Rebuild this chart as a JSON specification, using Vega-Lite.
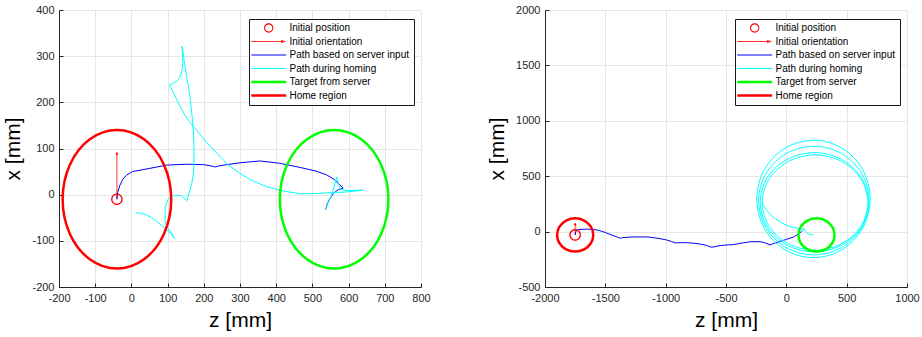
{
  "$schema": "https://vega.github.io/schema/vega-lite/v6.json",
  "autosize": {"type": "none"},
  "padding": {"left": 59, "top": 10, "right": 863, "bottom": 327},
  "bounds": "flush",
  "spacing": 124,
  "config": {
    "font": "Liberation Sans",
    "view": {"stroke": null},
    "axis": {
      "domainColor": "#262626", "domainWidth": 1,
      "tickColor": "#262626", "tickSize": -4, "tickWidth": 1,
      "labelColor": "#262626", "labelFontSize": 11, "labelFont": "Liberation Sans", "labelPadding": 9, "labelFlush": false, "labelOverlap": false,
      "titleFont": "Liberation Sans", "titleFontSize": 21, "titleFontWeight": "normal", "titleColor": "#000000",
      "gridColor": "#e6e6e6", "gridWidth": 1,
      "labelExpr": "'' + datum.value"
    },
    "axisX": {"titlePadding": 6},
    "axisY": {"titlePadding": 8},
    "legend": {
      "padding": 4, "strokeColor": "#1a1a1a", "fillColor": "#ffffff",
      "labelFont": "Liberation Sans", "labelFontSize": 10, "labelColor": "#000000", "labelLimit": 300,
      "symbolSize": 36, "symbolStrokeWidth": 0, "symbolOffset": 10.7, "labelOffset": 15.8, "rowPadding": 3.5, "cornerRadius": 0
    }
  },
  "datasets": {
    "pathsL": [
      {"s":"Initial orientation","id":"a","i":0,"z":-40,"x":-10},
      {"s":"Initial orientation","id":"a","i":1,"z":-40,"x":88},
      {"s":"Path based on server input","id":"b","i":0,"z":-40,"x":-10},
      {"s":"Path based on server input","id":"b","i":1,"z":-38,"x":5},
      {"s":"Path based on server input","id":"b","i":2,"z":-32,"x":20},
      {"s":"Path based on server input","id":"b","i":3,"z":-24,"x":33},
      {"s":"Path based on server input","id":"b","i":4,"z":-14,"x":42},
      {"s":"Path based on server input","id":"b","i":5,"z":3,"x":50},
      {"s":"Path based on server input","id":"b","i":6,"z":51,"x":57},
      {"s":"Path based on server input","id":"b","i":7,"z":97,"x":64},
      {"s":"Path based on server input","id":"b","i":8,"z":153,"x":66},
      {"s":"Path based on server input","id":"b","i":9,"z":199,"x":65},
      {"s":"Path based on server input","id":"b","i":10,"z":222,"x":62},
      {"s":"Path based on server input","id":"b","i":11,"z":232,"x":60},
      {"s":"Path based on server input","id":"b","i":12,"z":240,"x":62},
      {"s":"Path based on server input","id":"b","i":13,"z":263,"x":65},
      {"s":"Path based on server input","id":"b","i":14,"z":300,"x":69},
      {"s":"Path based on server input","id":"b","i":15,"z":355,"x":73},
      {"s":"Path based on server input","id":"b","i":16,"z":410,"x":68},
      {"s":"Path based on server input","id":"b","i":17,"z":466,"x":59},
      {"s":"Path based on server input","id":"b","i":18,"z":510,"x":51},
      {"s":"Path based on server input","id":"b","i":19,"z":539,"x":43},
      {"s":"Path based on server input","id":"b","i":20,"z":560,"x":33},
      {"s":"Path based on server input","id":"b","i":21,"z":576,"x":21},
      {"s":"Path based on server input","id":"b","i":22,"z":585,"x":14},
      {"s":"Path based on server input","id":"b","i":23,"z":572,"x":11},
      {"s":"Path based on server input","id":"b","i":24,"z":558,"x":3},
      {"s":"Path based on server input","id":"b","i":25,"z":547,"x":-10},
      {"s":"Path based on server input","id":"b","i":26,"z":541,"x":-20},
      {"s":"Path based on server input","id":"b","i":27,"z":537,"x":-32},
      {"s":"Path during homing","id":"c","i":0,"z":537,"x":-32},
      {"s":"Path during homing","id":"c","i":1,"z":544,"x":-15},
      {"s":"Path during homing","id":"c","i":2,"z":553,"x":-1},
      {"s":"Path during homing","id":"c","i":3,"z":560,"x":18},
      {"s":"Path during homing","id":"c","i":4,"z":567,"x":38},
      {"s":"Path during homing","id":"c","i":5,"z":572,"x":24},
      {"s":"Path during homing","id":"c","i":6,"z":578,"x":12},
      {"s":"Path during homing","id":"c","i":7,"z":590,"x":9},
      {"s":"Path during homing","id":"c","i":8,"z":610,"x":9},
      {"s":"Path during homing","id":"c","i":9,"z":640,"x":10},
      {"s":"Path during homing","id":"c","i":10,"z":610,"x":7},
      {"s":"Path during homing","id":"c","i":11,"z":580,"x":5},
      {"s":"Path during homing","id":"c","i":12,"z":558,"x":5},
      {"s":"Path during homing","id":"c","i":13,"z":520,"x":3},
      {"s":"Path during homing","id":"c","i":14,"z":490,"x":2},
      {"s":"Path during homing","id":"c","i":15,"z":466,"x":2},
      {"s":"Path during homing","id":"c","i":16,"z":420,"x":8},
      {"s":"Path during homing","id":"c","i":17,"z":374,"x":17},
      {"s":"Path during homing","id":"c","i":18,"z":335,"x":30},
      {"s":"Path during homing","id":"c","i":19,"z":300,"x":46},
      {"s":"Path during homing","id":"c","i":20,"z":265,"x":66},
      {"s":"Path during homing","id":"c","i":21,"z":236,"x":90},
      {"s":"Path during homing","id":"c","i":22,"z":205,"x":115},
      {"s":"Path during homing","id":"c","i":23,"z":180,"x":140},
      {"s":"Path during homing","id":"c","i":24,"z":162,"x":156},
      {"s":"Path during homing","id":"c","i":25,"z":148,"x":172},
      {"s":"Path during homing","id":"c","i":26,"z":134,"x":192},
      {"s":"Path during homing","id":"c","i":27,"z":120,"x":215},
      {"s":"Path during homing","id":"c","i":28,"z":105,"x":238},
      {"s":"Path during homing","id":"c","i":29,"z":117,"x":242},
      {"s":"Path during homing","id":"c","i":30,"z":127,"x":247},
      {"s":"Path during homing","id":"c","i":31,"z":134,"x":254},
      {"s":"Path during homing","id":"c","i":32,"z":139,"x":266},
      {"s":"Path during homing","id":"c","i":33,"z":142,"x":285},
      {"s":"Path during homing","id":"c","i":34,"z":140,"x":322},
      {"s":"Path during homing","id":"c","i":35,"z":144,"x":300},
      {"s":"Path during homing","id":"c","i":36,"z":148,"x":278},
      {"s":"Path during homing","id":"c","i":37,"z":155,"x":245},
      {"s":"Path during homing","id":"c","i":38,"z":162,"x":212},
      {"s":"Path during homing","id":"c","i":39,"z":167,"x":175},
      {"s":"Path during homing","id":"c","i":40,"z":171,"x":140},
      {"s":"Path during homing","id":"c","i":41,"z":173,"x":100},
      {"s":"Path during homing","id":"c","i":42,"z":173,"x":68},
      {"s":"Path during homing","id":"c","i":43,"z":171,"x":45},
      {"s":"Path during homing","id":"c","i":44,"z":167,"x":25},
      {"s":"Path during homing","id":"c","i":45,"z":160,"x":5},
      {"s":"Path during homing","id":"c","i":46,"z":153,"x":-13},
      {"s":"Path during homing","id":"c","i":47,"z":139,"x":-3},
      {"s":"Path during homing","id":"c","i":48,"z":130,"x":-1},
      {"s":"Path during homing","id":"c","i":49,"z":120,"x":-1.5},
      {"s":"Path during homing","id":"c","i":50,"z":110,"x":-4},
      {"s":"Path during homing","id":"c","i":51,"z":102,"x":-9},
      {"s":"Path during homing","id":"c","i":52,"z":96,"x":-20},
      {"s":"Path during homing","id":"c","i":53,"z":93,"x":-34},
      {"s":"Path during homing","id":"c","i":54,"z":93,"x":-55},
      {"s":"Path during homing","id":"c","i":55,"z":96,"x":-66},
      {"s":"Path during homing","id":"c","i":56,"z":102,"x":-73},
      {"s":"Path during homing","id":"c","i":57,"z":111,"x":-84},
      {"s":"Path during homing","id":"c","i":58,"z":120,"x":-95},
      {"s":"Path during homing","id":"c","i":59,"z":108,"x":-84},
      {"s":"Path during homing","id":"c","i":60,"z":97,"x":-76},
      {"s":"Path during homing","id":"c","i":61,"z":84,"x":-67},
      {"s":"Path during homing","id":"c","i":62,"z":70,"x":-58},
      {"s":"Path during homing","id":"c","i":63,"z":56,"x":-50},
      {"s":"Path during homing","id":"c","i":64,"z":42,"x":-44},
      {"s":"Path during homing","id":"c","i":65,"z":27,"x":-40},
      {"s":"Path during homing","id":"c","i":66,"z":12,"x":-39}
    ],
    "closedL": [
      {"s":"Home region","id":"h","i":0,"z":110,"x":-10},
      {"s":"Home region","id":"h","i":1,"z":89.9,"x":65},
      {"s":"Home region","id":"h","i":2,"z":35,"x":119.9},
      {"s":"Home region","id":"h","i":3,"z":-40,"x":140},
      {"s":"Home region","id":"h","i":4,"z":-115,"x":119.9},
      {"s":"Home region","id":"h","i":5,"z":-169.9,"x":65},
      {"s":"Home region","id":"h","i":6,"z":-190,"x":-10},
      {"s":"Home region","id":"h","i":7,"z":-169.9,"x":-85},
      {"s":"Home region","id":"h","i":8,"z":-115,"x":-139.9},
      {"s":"Home region","id":"h","i":9,"z":-40,"x":-160},
      {"s":"Home region","id":"h","i":10,"z":35,"x":-139.9},
      {"s":"Home region","id":"h","i":11,"z":89.9,"x":-85},
      {"s":"Target from server","id":"t","i":0,"z":710,"x":-10},
      {"s":"Target from server","id":"t","i":1,"z":689.9,"x":65},
      {"s":"Target from server","id":"t","i":2,"z":635,"x":119.9},
      {"s":"Target from server","id":"t","i":3,"z":560,"x":140},
      {"s":"Target from server","id":"t","i":4,"z":485,"x":119.9},
      {"s":"Target from server","id":"t","i":5,"z":430.1,"x":65},
      {"s":"Target from server","id":"t","i":6,"z":410,"x":-10},
      {"s":"Target from server","id":"t","i":7,"z":430.1,"x":-85},
      {"s":"Target from server","id":"t","i":8,"z":485,"x":-139.9},
      {"s":"Target from server","id":"t","i":9,"z":560,"x":-160},
      {"s":"Target from server","id":"t","i":10,"z":635,"x":-139.9},
      {"s":"Target from server","id":"t","i":11,"z":689.9,"x":-85}
    ],
    "markersL": [{"s":"Initial position","z":-40,"x":-10}],
    "headsL": [{"z":-40,"x":90}],
    "pathsR": [
      {"s":"Initial orientation","id":"a","i":0,"z":-1750,"x":-30},
      {"s":"Initial orientation","id":"a","i":1,"z":-1750,"x":68},
      {"s":"Path based on server input","id":"b","i":0,"z":-1750,"x":-30},
      {"s":"Path based on server input","id":"b","i":1,"z":-1746,"x":-5},
      {"s":"Path based on server input","id":"b","i":2,"z":-1735,"x":12},
      {"s":"Path based on server input","id":"b","i":3,"z":-1710,"x":20},
      {"s":"Path based on server input","id":"b","i":4,"z":-1650,"x":22},
      {"s":"Path based on server input","id":"b","i":5,"z":-1600,"x":20},
      {"s":"Path based on server input","id":"b","i":6,"z":-1550,"x":10},
      {"s":"Path based on server input","id":"b","i":7,"z":-1500,"x":-8},
      {"s":"Path based on server input","id":"b","i":8,"z":-1447,"x":-31},
      {"s":"Path based on server input","id":"b","i":9,"z":-1400,"x":-50},
      {"s":"Path based on server input","id":"b","i":10,"z":-1380,"x":-60},
      {"s":"Path based on server input","id":"b","i":11,"z":-1360,"x":-55},
      {"s":"Path based on server input","id":"b","i":12,"z":-1310,"x":-51},
      {"s":"Path based on server input","id":"b","i":13,"z":-1250,"x":-48},
      {"s":"Path based on server input","id":"b","i":14,"z":-1213,"x":-49},
      {"s":"Path based on server input","id":"b","i":15,"z":-1150,"x":-48},
      {"s":"Path based on server input","id":"b","i":16,"z":-1102,"x":-55},
      {"s":"Path based on server input","id":"b","i":17,"z":-1040,"x":-65},
      {"s":"Path based on server input","id":"b","i":18,"z":-991,"x":-76},
      {"s":"Path based on server input","id":"b","i":19,"z":-950,"x":-90},
      {"s":"Path based on server input","id":"b","i":20,"z":-920,"x":-102},
      {"s":"Path based on server input","id":"b","i":21,"z":-880,"x":-100},
      {"s":"Path based on server input","id":"b","i":22,"z":-826,"x":-100},
      {"s":"Path based on server input","id":"b","i":23,"z":-770,"x":-105},
      {"s":"Path based on server input","id":"b","i":24,"z":-716,"x":-112},
      {"s":"Path based on server input","id":"b","i":25,"z":-660,"x":-125},
      {"s":"Path based on server input","id":"b","i":26,"z":-619,"x":-142},
      {"s":"Path based on server input","id":"b","i":27,"z":-590,"x":-135},
      {"s":"Path based on server input","id":"b","i":28,"z":-536,"x":-124},
      {"s":"Path based on server input","id":"b","i":29,"z":-480,"x":-120},
      {"s":"Path based on server input","id":"b","i":30,"z":-440,"x":-118},
      {"s":"Path based on server input","id":"b","i":31,"z":-384,"x":-106},
      {"s":"Path based on server input","id":"b","i":32,"z":-300,"x":-92},
      {"s":"Path based on server input","id":"b","i":33,"z":-218,"x":-91},
      {"s":"Path based on server input","id":"b","i":34,"z":-180,"x":-100},
      {"s":"Path based on server input","id":"b","i":35,"z":-135,"x":-120},
      {"s":"Path based on server input","id":"b","i":36,"z":-100,"x":-105},
      {"s":"Path based on server input","id":"b","i":37,"z":-53,"x":-91},
      {"s":"Path based on server input","id":"b","i":38,"z":0,"x":-70},
      {"s":"Path based on server input","id":"b","i":39,"z":58,"x":-50},
      {"s":"Path based on server input","id":"b","i":40,"z":100,"x":-20},
      {"s":"Path based on server input","id":"b","i":41,"z":127,"x":1},
      {"s":"Path based on server input","id":"b","i":42,"z":146,"x":21},
      {"s":"Path during homing","id":"c1","i":0,"z":127,"x":1},
      {"s":"Path during homing","id":"c1","i":1,"z":146,"x":26},
      {"s":"Path during homing","id":"c1","i":2,"z":160,"x":0},
      {"s":"Path during homing","id":"c1","i":3,"z":175,"x":-15},
      {"s":"Path during homing","id":"c1","i":4,"z":196,"x":-24},
      {"s":"Path during homing","id":"c1","i":5,"z":224,"x":-31},
      {"s":"Path during homing","id":"c2","i":0,"z":146,"x":21},
      {"s":"Path during homing","id":"c2","i":1,"z":100,"x":28},
      {"s":"Path during homing","id":"c2","i":2,"z":30,"x":44},
      {"s":"Path during homing","id":"c2","i":3,"z":-40,"x":80},
      {"s":"Path during homing","id":"c2","i":4,"z":-108,"x":129},
      {"s":"Path during homing","id":"c2","i":5,"z":-160,"x":190},
      {"s":"Path during homing","id":"c2","i":6,"z":-191,"x":240},
      {"s":"Path during homing","id":"c2","i":7,"z":-200,"x":262}
    ],
    "loopsR": [
      {"s":"Path during homing","id":"l1","i":0,"z":695,"x":295},
      {"s":"Path during homing","id":"l1","i":1,"z":632,"x":560},
      {"s":"Path during homing","id":"l1","i":2,"z":460,"x":754},
      {"s":"Path during homing","id":"l1","i":3,"z":225,"x":825},
      {"s":"Path during homing","id":"l1","i":4,"z":-10,"x":754},
      {"s":"Path during homing","id":"l1","i":5,"z":-182,"x":560},
      {"s":"Path during homing","id":"l1","i":6,"z":-245,"x":295},
      {"s":"Path during homing","id":"l1","i":7,"z":-182,"x":30},
      {"s":"Path during homing","id":"l1","i":8,"z":-10,"x":-164},
      {"s":"Path during homing","id":"l1","i":9,"z":225,"x":-235},
      {"s":"Path during homing","id":"l1","i":10,"z":460,"x":-164},
      {"s":"Path during homing","id":"l1","i":11,"z":632,"x":30},
      {"s":"Path during homing","id":"l2","i":0,"z":686,"x":280},
      {"s":"Path during homing","id":"l2","i":1,"z":624.6,"x":525},
      {"s":"Path during homing","id":"l2","i":2,"z":457,"x":704.3},
      {"s":"Path during homing","id":"l2","i":3,"z":228,"x":770},
      {"s":"Path during homing","id":"l2","i":4,"z":-1,"x":704.3},
      {"s":"Path during homing","id":"l2","i":5,"z":-168.6,"x":525},
      {"s":"Path during homing","id":"l2","i":6,"z":-230,"x":280},
      {"s":"Path during homing","id":"l2","i":7,"z":-168.6,"x":35},
      {"s":"Path during homing","id":"l2","i":8,"z":-1,"x":-144.3},
      {"s":"Path during homing","id":"l2","i":9,"z":228,"x":-210},
      {"s":"Path during homing","id":"l2","i":10,"z":457,"x":-144.3},
      {"s":"Path during homing","id":"l2","i":11,"z":624.6,"x":35},
      {"s":"Path during homing","id":"l3","i":0,"z":680,"x":265},
      {"s":"Path during homing","id":"l3","i":1,"z":620,"x":489},
      {"s":"Path during homing","id":"l3","i":2,"z":456,"x":653},
      {"s":"Path during homing","id":"l3","i":3,"z":232,"x":713},
      {"s":"Path during homing","id":"l3","i":4,"z":8,"x":653},
      {"s":"Path during homing","id":"l3","i":5,"z":-156,"x":489},
      {"s":"Path during homing","id":"l3","i":6,"z":-216,"x":265},
      {"s":"Path during homing","id":"l3","i":7,"z":-156,"x":41},
      {"s":"Path during homing","id":"l3","i":8,"z":8,"x":-123},
      {"s":"Path during homing","id":"l3","i":9,"z":232,"x":-183},
      {"s":"Path during homing","id":"l3","i":10,"z":456,"x":-123},
      {"s":"Path during homing","id":"l3","i":11,"z":620,"x":41},
      {"s":"Path during homing","id":"l4","i":0,"z":676,"x":262},
      {"s":"Path during homing","id":"l4","i":1,"z":617.3,"x":477},
      {"s":"Path during homing","id":"l4","i":2,"z":457,"x":634.4},
      {"s":"Path during homing","id":"l4","i":3,"z":238,"x":692},
      {"s":"Path during homing","id":"l4","i":4,"z":19,"x":634.4},
      {"s":"Path during homing","id":"l4","i":5,"z":-141.3,"x":477},
      {"s":"Path during homing","id":"l4","i":6,"z":-200,"x":262},
      {"s":"Path during homing","id":"l4","i":7,"z":-141.3,"x":47},
      {"s":"Path during homing","id":"l4","i":8,"z":19,"x":-110.4},
      {"s":"Path during homing","id":"l4","i":9,"z":238,"x":-168},
      {"s":"Path during homing","id":"l4","i":10,"z":457,"x":-110.4},
      {"s":"Path during homing","id":"l4","i":11,"z":617.3,"x":47}
    ],
    "closedR": [
      {"s":"Home region","id":"h","i":0,"z":-1600,"x":-30},
      {"s":"Home region","id":"h","i":1,"z":-1620.1,"x":45},
      {"s":"Home region","id":"h","i":2,"z":-1675,"x":99.9},
      {"s":"Home region","id":"h","i":3,"z":-1750,"x":120},
      {"s":"Home region","id":"h","i":4,"z":-1825,"x":99.9},
      {"s":"Home region","id":"h","i":5,"z":-1879.9,"x":45},
      {"s":"Home region","id":"h","i":6,"z":-1900,"x":-30},
      {"s":"Home region","id":"h","i":7,"z":-1879.9,"x":-105},
      {"s":"Home region","id":"h","i":8,"z":-1825,"x":-159.9},
      {"s":"Home region","id":"h","i":9,"z":-1750,"x":-180},
      {"s":"Home region","id":"h","i":10,"z":-1675,"x":-159.9},
      {"s":"Home region","id":"h","i":11,"z":-1620.1,"x":-105},
      {"s":"Target from server","id":"t","i":0,"z":400,"x":-30},
      {"s":"Target from server","id":"t","i":1,"z":379.9,"x":45},
      {"s":"Target from server","id":"t","i":2,"z":325,"x":99.9},
      {"s":"Target from server","id":"t","i":3,"z":250,"x":120},
      {"s":"Target from server","id":"t","i":4,"z":175,"x":99.9},
      {"s":"Target from server","id":"t","i":5,"z":120.1,"x":45},
      {"s":"Target from server","id":"t","i":6,"z":100,"x":-30},
      {"s":"Target from server","id":"t","i":7,"z":120.1,"x":-105},
      {"s":"Target from server","id":"t","i":8,"z":175,"x":-159.9},
      {"s":"Target from server","id":"t","i":9,"z":250,"x":-180},
      {"s":"Target from server","id":"t","i":10,"z":325,"x":-159.9},
      {"s":"Target from server","id":"t","i":11,"z":379.9,"x":-105}
    ],
    "markersR": [{"s":"Initial position","z":-1750,"x":-30}],
    "headsR": [{"z":-1750,"x":70}]
  },
  "resolve": {
    "scale": {"x": "independent", "y": "independent", "color": "independent", "shape": "independent", "stroke": "independent"},
    "legend": {"color": "independent", "shape": "independent"}
  },
  "hconcat": [
    {
      "width": 362, "height": 277,
      "encoding": {
        "x": {"field": "z", "type": "quantitative", "title": "z [mm]",
              "scale": {"domain": [-200, 800], "nice": false, "zero": false},
              "axis": {"values": [-200,-100,0,100,200,300,400,500,600,700,800]}},
        "y": {"field": "x", "type": "quantitative", "title": "x [mm]",
              "scale": {"domain": [-200, 400], "nice": false, "zero": false},
              "axis": {"values": [-200,-100,0,100,200,300,400]}}
      },
      "layer": [
        {
          "data": {"name": "pathsL"},
          "mark": {"type": "line", "strokeWidth": 1, "clip": true},
          "encoding": {
            "detail": {"field": "id"},
            "order": {"field": "i", "type": "quantitative"},
            "stroke": {"field": "s", "type": "nominal", "legend": null,
              "scale": {"domain": ["Initial orientation","Path based on server input","Path during homing","Target from server","Home region"],
                        "range": ["#ff3030","#0000ff","#00ffff","#00ff00","#ff0000"]}}
          }
        },
        {
          "data": {"name": "closedL"},
          "mark": {"type": "line", "strokeWidth": 2.5, "interpolate": "cardinal-closed", "clip": true},
          "encoding": {
            "detail": {"field": "id"},
            "order": {"field": "i", "type": "quantitative"},
            "stroke": {"field": "s", "type": "nominal", "legend": null,
              "scale": {"domain": ["Initial orientation","Path based on server input","Path during homing","Target from server","Home region"],
                        "range": ["#ff3030","#0000ff","#00ffff","#00ff00","#ff0000"]}}
          }
        },
        {
          "data": {"name": "markersL"},
          "mark": {"type": "point", "filled": true, "opacity": 1, "strokeWidth": 0, "size": 56},
          "encoding": {
            "color": {"field": "s", "type": "nominal",
              "scale": {"domain": ["Initial position","Initial orientation","Path based on server input","Path during homing","Target from server","Home region"],
                        "range": ["#ff0000","#ff3030","#0000ff","#00ffff","#00ff00","#ff0000"]},
              "legend": {"title": null, "orient": "none", "legendX": 190, "legendY": 9}},
            "shape": {"field": "s", "type": "nominal",
              "scale": {"domain": ["Initial position","Initial orientation","Path based on server input","Path during homing","Target from server","Home region"],
                        "range": ["M1.55,0A1.55,1.55,0,1,1,-1.55,0A1.55,1.55,0,1,1,1.55,0ZM1.2,0A1.2,1.2,0,1,0,-1.2,0A1.2,1.2,0,1,0,1.2,0Z",
                                  "M-5.8,-0.17H4.6V0.17H-5.8ZM4.1,-0.6L5.8,0L4.1,0.6Z",
                                  "M-5.8,-0.17H5.8V0.17H-5.8Z",
                                  "M-5.8,-0.17H5.8V0.17H-5.8Z",
                                  "M-5.8,-0.45H5.8V0.45H-5.8Z",
                                  "M-5.8,-0.45H5.8V0.45H-5.8Z"]},
              "legend": {"title": null, "orient": "none", "legendX": 190, "legendY": 9}}
          }
        },
        {
          "data": {"name": "headsL"},
          "mark": {"type": "point", "shape": "triangle-up", "filled": true, "opacity": 1, "color": "#ff0000", "size": 10},
          "encoding": {}
        }
      ]
    },
    {
      "width": 362, "height": 277,
      "encoding": {
        "x": {"field": "z", "type": "quantitative", "title": "z [mm]",
              "scale": {"domain": [-2000, 1000], "nice": false, "zero": false},
              "axis": {"values": [-2000,-1500,-1000,-500,0,500,1000]}},
        "y": {"field": "x", "type": "quantitative", "title": "x [mm]",
              "scale": {"domain": [-500, 2000], "nice": false, "zero": false},
              "axis": {"values": [-500,0,500,1000,1500,2000]}}
      },
      "layer": [
        {
          "data": {"name": "pathsR"},
          "mark": {"type": "line", "strokeWidth": 1, "clip": true},
          "encoding": {
            "detail": {"field": "id"},
            "order": {"field": "i", "type": "quantitative"},
            "stroke": {"field": "s", "type": "nominal", "legend": null,
              "scale": {"domain": ["Initial orientation","Path based on server input","Path during homing","Target from server","Home region"],
                        "range": ["#ff3030","#0000ff","#00ffff","#00ff00","#ff0000"]}}
          }
        },
        {
          "data": {"name": "loopsR"},
          "mark": {"type": "line", "strokeWidth": 1, "interpolate": "cardinal-closed", "clip": true},
          "encoding": {
            "detail": {"field": "id"},
            "order": {"field": "i", "type": "quantitative"},
            "stroke": {"field": "s", "type": "nominal", "legend": null,
              "scale": {"domain": ["Initial orientation","Path based on server input","Path during homing","Target from server","Home region"],
                        "range": ["#ff3030","#0000ff","#00ffff","#00ff00","#ff0000"]}}
          }
        },
        {
          "data": {"name": "closedR"},
          "mark": {"type": "line", "strokeWidth": 2.5, "interpolate": "cardinal-closed", "clip": true},
          "encoding": {
            "detail": {"field": "id"},
            "order": {"field": "i", "type": "quantitative"},
            "stroke": {"field": "s", "type": "nominal", "legend": null,
              "scale": {"domain": ["Initial orientation","Path based on server input","Path during homing","Target from server","Home region"],
                        "range": ["#ff3030","#0000ff","#00ffff","#00ff00","#ff0000"]}}
          }
        },
        {
          "data": {"name": "markersR"},
          "mark": {"type": "point", "filled": true, "opacity": 1, "strokeWidth": 0, "size": 56},
          "encoding": {
            "color": {"field": "s", "type": "nominal",
              "scale": {"domain": ["Initial position","Initial orientation","Path based on server input","Path during homing","Target from server","Home region"],
                        "range": ["#ff0000","#ff3030","#0000ff","#00ffff","#00ff00","#ff0000"]},
              "legend": {"title": null, "orient": "none", "legendX": 190, "legendY": 9}},
            "shape": {"field": "s", "type": "nominal",
              "scale": {"domain": ["Initial position","Initial orientation","Path based on server input","Path during homing","Target from server","Home region"],
                        "range": ["M1.55,0A1.55,1.55,0,1,1,-1.55,0A1.55,1.55,0,1,1,1.55,0ZM1.2,0A1.2,1.2,0,1,0,-1.2,0A1.2,1.2,0,1,0,1.2,0Z",
                                  "M-5.8,-0.17H4.6V0.17H-5.8ZM4.1,-0.6L5.8,0L4.1,0.6Z",
                                  "M-5.8,-0.17H5.8V0.17H-5.8Z",
                                  "M-5.8,-0.17H5.8V0.17H-5.8Z",
                                  "M-5.8,-0.45H5.8V0.45H-5.8Z",
                                  "M-5.8,-0.45H5.8V0.45H-5.8Z"]},
              "legend": {"title": null, "orient": "none", "legendX": 190, "legendY": 9}}
          }
        },
        {
          "data": {"name": "headsR"},
          "mark": {"type": "point", "shape": "triangle-up", "filled": true, "opacity": 1, "color": "#ff0000", "size": 10},
          "encoding": {}
        }
      ]
    }
  ]
}
